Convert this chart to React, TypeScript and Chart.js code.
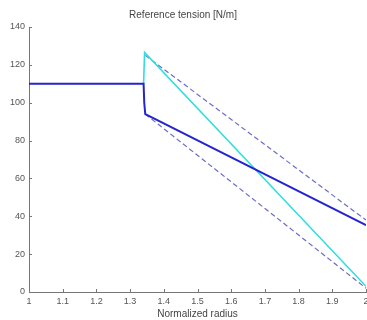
import React, { useEffect, useRef } from "react";
import { Chart, registerables } from "chart.js";

Chart.register(...registerables);

// Tension profiles along the normalized radius
const tensionX = [1, 1.34, 1.342, 1.345, 1.36, 2];
const tensionY = [110, 110, 100, 94, 92.6, 35.3];

const taperX = [1.34, 1.343, 2];
const taperY = [110, 126.6, 3];

const upperBoundX = [1.345, 2];
const upperBoundY = [125, 38];

const lowerBoundX = [1.345, 2];
const lowerBoundY = [94, 2];

const xTickValues = [1, 1.1, 1.2, 1.3, 1.4, 1.5, 1.6, 1.7, 1.8, 1.9, 2];
const xTickLabels = ["1", "1.1", "1.2", "1.3", "1.4", "1.5", "1.6", "1.7", "1.8", "1.9", "2"];
const yTickValues = [0, 20, 40, 60, 80, 100, 120, 140];
const yTickLabels = ["0", "20", "40", "60", "80", "100", "120", "140"];

const pts = (xs: number[], ys: number[]) => xs.map((x, i) => ({ x, y: ys[i] }));

const FONT = "'Liberation Sans', Arial, Helvetica, sans-serif";

// Short tick marks pointing into the plot area
const inwardTicks = {
  id: "inwardTicks",
  afterDatasetsDraw(chart: any) {
    const { ctx, chartArea, scales } = chart;
    ctx.save();
    ctx.strokeStyle = "#777";
    ctx.lineWidth = 1;
    ctx.beginPath();
    for (const v of xTickValues) {
      const px = Math.round(scales.x.getPixelForValue(v)) + 0.5;
      ctx.moveTo(px, chartArea.bottom);
      ctx.lineTo(px, chartArea.bottom - 3);
    }
    for (const v of yTickValues) {
      const py = Math.round(scales.y.getPixelForValue(v)) + 0.5;
      ctx.moveTo(chartArea.left, py);
      ctx.lineTo(chartArea.left + 3, py);
    }
    ctx.stroke();
    ctx.restore();
  },
};

export default function App() {
  const canvasRef = useRef<HTMLCanvasElement | null>(null);

  useEffect(() => {
    const canvas = canvasRef.current;
    if (!canvas) return;
    const chart = new Chart(canvas, {
      type: "line",
      data: {
        datasets: [
          {
            data: pts(tensionX, tensionY),
            borderColor: "#2424d0",
            borderWidth: 2,
            pointRadius: 0,
            tension: 0,
          },
          {
            data: pts(taperX, taperY),
            borderColor: "#30dede",
            borderWidth: 1.6,
            pointRadius: 0,
            tension: 0,
          },
          {
            data: pts(upperBoundX, upperBoundY),
            borderColor: "#6c6cc8",
            borderWidth: 1.2,
            borderDash: [5, 3],
            pointRadius: 0,
          },
          {
            data: pts(lowerBoundX, lowerBoundY),
            borderColor: "#6c6cc8",
            borderWidth: 1.2,
            borderDash: [5, 3],
            pointRadius: 0,
          },
        ],
      },
      options: {
        animation: false,
        responsive: false,
        events: [],
        layout: { padding: { left: 0, right: 1, top: 0, bottom: 0 } },
        plugins: {
          legend: { display: false },
          tooltip: { enabled: false },
          title: {
            display: true,
            text: "Reference tension [N/m]",
            color: "#444",
            font: { family: FONT, size: 10, weight: "normal" },
            padding: { top: 9, bottom: 6 },
          },
        },
        scales: {
          x: {
            type: "linear",
            min: 1,
            max: 2,
            grid: { display: false, drawTicks: false, tickLength: 0 },
            border: { display: true, color: "#777", width: 1 },
            afterBuildTicks: (s: any) => {
              s.ticks = xTickValues.map((value) => ({ value }));
            },
            afterFit: (s: any) => {
              s.height = 28;
              s.paddingLeft = 0;
              s.paddingRight = 0;
            },
            ticks: {
              color: "#555",
              font: { family: FONT, size: 9 },
              padding: 4,
              maxRotation: 0,
              autoSkip: false,
              callback: (_v: any, i: number) => xTickLabels[i],
            },
            title: {
              display: true,
              text: "Normalized radius",
              color: "#444",
              font: { family: FONT, size: 10 },
              padding: { top: 0, bottom: 0 },
            },
          },
          y: {
            type: "linear",
            min: 0,
            max: 140,
            grid: { display: false, drawTicks: false, tickLength: 0 },
            border: { display: true, color: "#777", width: 1 },
            afterBuildTicks: (s: any) => {
              s.ticks = yTickValues.map((value) => ({ value }));
            },
            afterFit: (s: any) => {
              s.width = 29;
              s.paddingTop = 0;
              s.paddingBottom = 0;
            },
            ticks: {
              color: "#555",
              font: { family: FONT, size: 9 },
              padding: 4,
              autoSkip: false,
              callback: (_v: any, i: number) => yTickLabels[i],
            },
          },
        },
      },
      plugins: [inwardTicks],
    } as any);
    return () => chart.destroy();
  }, []);

  return (
    <div style={{ position: "fixed", left: 0, top: 0, width: 367, height: 320, background: "#fff" }}>
      <canvas ref={canvasRef} width={367} height={320} />
    </div>
  );
}
